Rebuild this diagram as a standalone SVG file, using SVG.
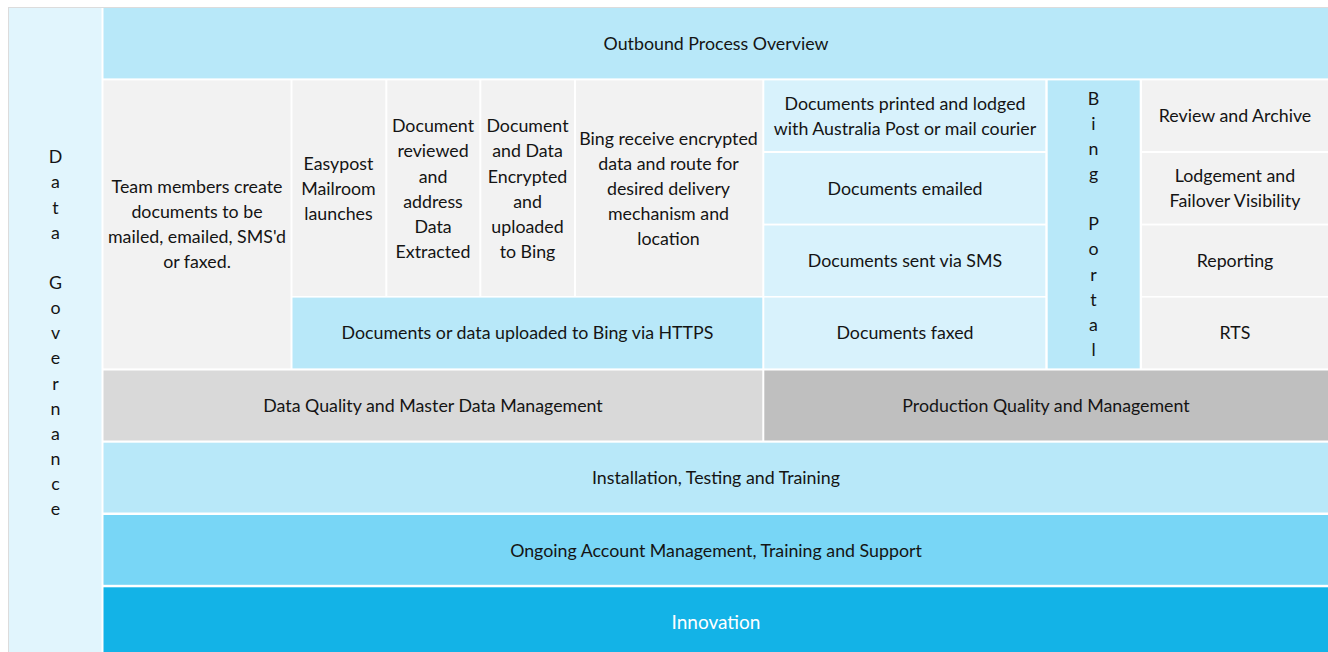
<svg xmlns="http://www.w3.org/2000/svg" width="1328" height="652" viewBox="0 0 1328 652">
<style>
text{font-family:Lato,"Open Sans","DejaVu Sans",sans-serif;font-size:17.8px;fill:#141414;text-anchor:middle}
.g{fill:#F2F2F2}
.lb{fill:#D8F2FC}
.mb{fill:#B8E8F9}
.dq{fill:#D9D9D9}
.pq{fill:#BFBFBF}
.ob{fill:#78D6F6}
.inn{fill:#13B3E7}
.w{fill:#FFFFFF;font-size:19px}
</style>
<rect x="0" y="0" width="1328" height="652" fill="#FFFFFF"/>
<rect x="8.5" y="7.5" width="1330" height="650" fill="none" stroke="#DCDCDC" stroke-width="1"/>
<g id="governance">
<rect x="9" y="8" width="92.5" height="644" fill="#E1F5FD"/>
<text x="55.5" y="163.3"><tspan x="55.5">D</tspan><tspan x="55.5" dy="25.14">a</tspan><tspan x="55.5" dy="25.14">t</tspan><tspan x="55.5" dy="25.14">a</tspan><tspan x="55.5" dy="50.28">G</tspan><tspan x="55.5" dy="25.14">o</tspan><tspan x="55.5" dy="25.14">v</tspan><tspan x="55.5" dy="25.14">e</tspan><tspan x="55.5" dy="25.14">r</tspan><tspan x="55.5" dy="25.14">n</tspan><tspan x="55.5" dy="25.14">a</tspan><tspan x="55.5" dy="25.14">n</tspan><tspan x="55.5" dy="25.14">c</tspan><tspan x="55.5" dy="25.14">e</tspan></text>
</g>
<g id="header">
<rect class="mb" x="103.5" y="8" width="1225" height="70.4"/>
<text x="716" y="49.5">Outbound Process Overview</text>
</g>
<g id="team">
<rect class="g" x="103.5" y="80.4" width="187" height="288"/>
<text x="197" y="193"><tspan x="197">Team members create</tspan><tspan x="197" dy="25.1">documents to be</tspan><tspan x="197" dy="25.1">mailed, emailed, SMS'd</tspan><tspan x="197" dy="25.1">or faxed.</tspan></text>
</g>
<g id="easypost">
<rect class="g" x="292.5" y="80.4" width="92.8" height="215.6"/>
<text x="338.5" y="169.6"><tspan x="338.5">Easypost</tspan><tspan x="338.5" dy="25.1">Mailroom</tspan><tspan x="338.5" dy="25.1">launches</tspan></text>
</g>
<g id="reviewed">
<rect class="g" x="387.3" y="80.4" width="92" height="215.6"/>
<text x="433" y="132.3"><tspan x="433">Document</tspan><tspan x="433" dy="25.1">reviewed</tspan><tspan x="433" dy="25.1">and</tspan><tspan x="433" dy="25.1">address</tspan><tspan x="433" dy="25.1">Data</tspan><tspan x="433" dy="25.1">Extracted</tspan></text>
</g>
<g id="encrypted">
<rect class="g" x="481.3" y="80.4" width="92.7" height="215.6"/>
<text x="527.5" y="132.3"><tspan x="527.5">Document</tspan><tspan x="527.5" dy="25.1">and Data</tspan><tspan x="527.5" dy="25.1">Encrypted</tspan><tspan x="527.5" dy="25.1">and</tspan><tspan x="527.5" dy="25.1">uploaded</tspan><tspan x="527.5" dy="25.1">to Bing</tspan></text>
</g>
<g id="bing-receive">
<rect class="g" x="576" y="80.4" width="186.3" height="215.6"/>
<text x="668.5" y="144.5"><tspan x="668.5">Bing receive encrypted</tspan><tspan x="668.5" dy="25.1">data and route for</tspan><tspan x="668.5" dy="25.1">desired delivery</tspan><tspan x="668.5" dy="25.1">mechanism and</tspan><tspan x="668.5" dy="25.1">location</tspan></text>
</g>
<g id="https">
<rect class="mb" x="292.5" y="297.6" width="469.8" height="70.8"/>
<text x="527.5" y="339.3">Documents or data uploaded to Bing via HTTPS</text>
</g>
<g id="printed">
<rect class="lb" x="764.3" y="80.4" width="281" height="70.6"/>
<text x="905" y="109.5"><tspan x="905">Documents printed and lodged</tspan><tspan x="905" dy="25.1">with Australia Post or mail courier</tspan></text>
</g>
<g id="emailed">
<rect class="lb" x="764.3" y="153" width="281" height="70.6"/>
<text x="905" y="194.6">Documents emailed</text>
</g>
<g id="sms">
<rect class="lb" x="764.3" y="225.5" width="281" height="70.5"/>
<text x="905" y="267">Documents sent via SMS</text>
</g>
<g id="faxed">
<rect class="lb" x="764.3" y="297.6" width="281" height="70.8"/>
<text x="905" y="339.3">Documents faxed</text>
</g>
<g id="bing-portal">
<rect class="mb" x="1047.7" y="80.4" width="92" height="288"/>
<text x="1093.5" y="104.6"><tspan x="1093.5">B</tspan><tspan x="1093.5" dy="25.14">i</tspan><tspan x="1093.5" dy="25.14">n</tspan><tspan x="1093.5" dy="25.14">g</tspan><tspan x="1093.5" dy="50.28">P</tspan><tspan x="1093.5" dy="25.14">o</tspan><tspan x="1093.5" dy="25.14">r</tspan><tspan x="1093.5" dy="25.14">t</tspan><tspan x="1093.5" dy="25.14">a</tspan><tspan x="1093.5" dy="25.14">l</tspan></text>
</g>
<g id="review">
<rect class="g" x="1142" y="80.4" width="186" height="70.6"/>
<text x="1235" y="122">Review and Archive</text>
</g>
<g id="lodgement">
<rect class="g" x="1142" y="153" width="186" height="70.6"/>
<text x="1235" y="182"><tspan x="1235">Lodgement and</tspan><tspan x="1235" dy="25.1">Failover Visibility</tspan></text>
</g>
<g id="reporting">
<rect class="g" x="1142" y="225.5" width="186" height="70.5"/>
<text x="1235" y="267">Reporting</text>
</g>
<g id="rts">
<rect class="g" x="1142" y="297.6" width="186" height="70.8"/>
<text x="1235" y="339.3">RTS</text>
</g>
<g id="data-quality">
<rect class="dq" x="103.5" y="370.5" width="658.8" height="70"/>
<text x="433" y="411.7">Data Quality and Master Data Management</text>
</g>
<g id="production-quality">
<rect class="pq" x="764.3" y="370.5" width="564" height="70"/>
<text x="1046" y="411.7">Production Quality and Management</text>
</g>
<g id="installation">
<rect class="mb" x="103.5" y="442.7" width="1225" height="69.8"/>
<text x="716" y="484">Installation, Testing and Training</text>
</g>
<g id="ongoing">
<rect class="ob" x="103.5" y="515" width="1225" height="69.8"/>
<text x="716" y="556.5">Ongoing Account Management, Training and Support</text>
</g>
<g id="innovation">
<rect class="inn" x="103.5" y="587.3" width="1225" height="70"/>
<text class="w" x="716" y="629.3">Innovation</text>
</g>
<g id="connectors"></g>
</svg>
